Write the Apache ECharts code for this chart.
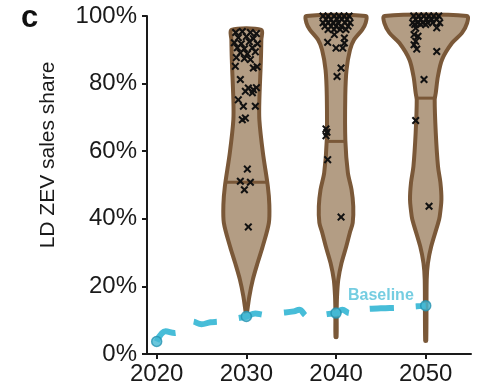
<!DOCTYPE html>
<html><head><meta charset="utf-8">
<script src="https://cdn.jsdelivr.net/npm/echarts@6/dist/echarts.min.js"></script>
<style>html,body{margin:0;padding:0;background:#fff}#c{width:477px;height:388px}</style>
</head><body><div id="c"></div>
<script>
// ---- data ----
const xTickYears = [2020, 2030, 2040, 2050];
const violinYears = [2030, 2040, 2050];
// violin profiles: [share %, half width in years], from top to bottom
const violin2030 = [[95.9,1.67],[93,1.67],[87,1.62],[75.2,1.45],[69.3,1.45],[59.6,1.84],[49.5,2.40],[44.2,2.56],[38.8,2.51],[31.8,1.82],[27,1.26],[22,0.72],[17,0.33],[11.3,0.02]];
const violin2040 = [[100,3.31],[98,3.31],[96,2.93],[93,2.01],[90,1.56],[84.1,1.17],[76.2,1.03],[63.1,1.04],[53.6,1.32],[48.6,1.73],[43.7,1.92],[38.8,1.86],[35.9,1.54],[31.8,1.14],[26.9,0.61],[22,0.25],[17,0.11],[12.2,0.07],[5,0.06]];
const violin2050 = [[100,4.61],[97.9,4.61],[95,4.05],[92,2.93],[87.1,1.82],[82.1,1.36],[77.2,1.12],[75.2,1.0],[65.5,1.12],[55.5,1.37],[50.7,1.64],[45.7,1.75],[40.7,1.56],[38.8,1.39],[31.8,0.61],[26.9,0.25],[22,0.11],[3.9,0.06]];
const violinMedians = [50.8, 62.9, 75.7];
const points2030 = [[2028.81,95.1],[2029.55,95.4],[2030.45,95.1],[2031.12,94.8],[2029.11,93.6],[2030.0,93.9],[2030.78,93.3],[2028.66,92.1],[2029.44,91.8],[2030.33,92.4],[2031.23,91.8],[2028.99,90.6],[2029.78,90.3],[2030.67,90.6],[2029.33,89.1],[2030.11,88.8],[2031.0,89.4],[2028.88,87.7],[2029.78,87.4],[2030.45,87.1],[2028.77,85.1],[2030.78,84.6],[2031.2,85.0],[2029.33,81.2],[2030.22,78.7],[2030.78,78.2],[2031.12,78.8],[2029.89,77.7],[2030.67,77.3],[2029.1,75.2],[2029.67,73.3],[2031.0,73.3],[2029.55,69.3],[2029.89,69.8],[2030.11,54.7],[2029.33,51.1],[2030.45,50.8],[2029.78,48.6],[2030.22,37.6]];
const points2040 = [[2038.55,100],[2039.11,100],[2039.78,100],[2040.33,100],[2040.89,100],[2041.45,100],[2038.88,99],[2039.44,99],[2040.11,99],[2040.67,99],[2041.23,99],[2038.55,98],[2039.11,98],[2039.67,98],[2040.22,98],[2041.0,98],[2041.56,98],[2038.77,97],[2039.44,97],[2040.0,97],[2040.56,97],[2041.34,97],[2039.11,96],[2039.78,96],[2040.45,96],[2041.11,96],[2039.81,94.5],[2040.93,93.5],[2039.07,92.2],[2040.93,92.0],[2040.0,90.5],[2040.75,90.5],[2040.56,84.6],[2040.11,82.1],[2038.88,66.6],[2038.99,65.6],[2038.88,64.6],[2039.07,57.5],[2040.56,40.5]];
const points2050 = [[2048.66,100],[2049.22,100],[2049.78,100],[2050.33,100],[2050.89,100],[2051.45,100],[2048.88,99],[2049.44,99],[2050.11,99],[2050.67,99],[2051.23,99],[2048.55,98],[2049.11,98],[2049.67,98],[2050.22,98],[2050.78,98],[2051.56,98],[2048.77,97.5],[2049.44,97.5],[2050.0,97.5],[2051.23,96.5],[2048.88,96.4],[2048.70,94.5],[2049.14,94.0],[2048.88,92.5],[2048.70,91.5],[2049.0,90.2],[2051.23,89.5],[2049.81,81.2],[2048.88,69.1],[2050.37,43.7]];
const baselineLine = [[2020,3.7],[2021,6.7],[2022,6.2],[2023,7.6],[2024,9.6],[2025,8.8],[2026,9.4],[2027,9.6],[2028,10.2],[2029,10.6],[2030,11.1],[2031,12.0],[2032,11.6],[2033,12.0],[2034,12.2],[2035.3,12.6],[2035.9,13.1],[2036.8,11.2],[2037.5,11.6],[2038.5,11.6],[2039,11.8],[2040,12.1],[2040.7,13.1],[2041.5,12.1],[2042.2,13.1],[2043,13.2],[2044,13.4],[2045,13.5],[2046,13.6],[2047,13.7],[2048,13.9],[2049,14.1],[2050,14.3]];
const baselineMarkers = [[2020,3.7],[2030,11.1],[2040,12.1],[2050,14.3]];
const baselineLabel = [[2045.0,17.2]];

// ---- chart ----
const profiles = [violin2030, violin2040, violin2050];
const FONT = 'Liberation Sans, Arial, sans-serif';
const FILL = '#b39d84', EDGE = '#7a5838', CYAN = '#47bdd8';
function widthAt(prof, v){
  for (let k=0;k<prof.length-1;k++){
    const a=prof[k], b=prof[k+1];
    if (v<=a[0] && v>=b[0]) { const t=(a[0]-v)/(a[0]-b[0]); return a[1]+(b[1]-a[1])*t; }
  }
  return 0;
}
const crossPath = 'path://M0,1.8L1.8,0L5,3.2L8.2,0L10,1.8L6.8,5L10,8.2L8.2,10L5,6.8L1.8,10L0,8.2L3.2,5Z';
const chart = echarts.init(document.getElementById('c'), null, {renderer:'canvas'});
chart.setOption({
  animation:false,
  grid:{left:147,right:6,top:16,bottom:34,containLabel:false},
  xAxis:{type:'value',min:2018.92,max:2055.05,
    axisLine:{lineStyle:{color:'#1a1a1a',width:2}},
    axisTick:{show:true,length:5,lineStyle:{color:'#1a1a1a',width:2},customValues:xTickYears},
    axisLabel:{customValues:xTickYears,fontSize:24,color:'#1a1a1a',fontFamily:FONT,margin:8,formatter:v=>String(v)},
    splitLine:{show:false}},
  yAxis:{type:'value',min:0,max:100,interval:20,
    axisLine:{show:true,lineStyle:{color:'#1a1a1a',width:2}},
    axisTick:{show:true,length:5,lineStyle:{color:'#1a1a1a',width:2}},
    axisLabel:{fontSize:24,color:'#1a1a1a',fontFamily:FONT,margin:10,formatter:'{value}%'},
    splitLine:{show:false}},
  graphic:[
    {type:'text',x:21,y:18,style:{text:'c',font:'bold 31px '+FONT,fill:'#111',verticalAlign:'middle',align:'left'}},
    {type:'text',x:48,y:155,rotation:Math.PI/2,style:{text:'LD ZEV sales share',font:'21px '+FONT,fill:'#1a1a1a',align:'center',verticalAlign:'middle'}}
  ],
  series:[
    {type:'custom',clip:false,z:1,
      data:violinYears.map((y,i)=>[y,violinMedians[i]]),
      encode:{x:0,y:1},
      renderItem:function(params,api){
        const i=params.dataIndex, c=api.value(0), prof=profiles[i];
        const right=prof.map(p=>api.coord([c+p[1],p[0]]));
        const left=prof.slice().reverse().map(p=>api.coord([c-p[1],p[0]]));
        const m=violinMedians[i], w=widthAt(prof,m);
        const a=api.coord([c-w,m]), b=api.coord([c+w,m]);
        return {type:'group',children:[
          {type:'polygon',shape:{points:right.concat(left),smooth:0.3},style:{fill:FILL,stroke:EDGE,lineWidth:4,lineJoin:'round'}},
          {type:'line',shape:{x1:a[0],y1:a[1],x2:b[0],y2:b[1]},style:{stroke:EDGE,lineWidth:3}}
        ]};
      }},
    {type:'scatter',z:3,clip:false,data:points2030.concat(points2040,points2050),
      symbol:crossPath,symbolSize:8,itemStyle:{color:'#111',opacity:1}},
    {type:'line',z:4,data:baselineLine,showSymbol:false,smooth:0.4,
      lineStyle:{color:CYAN,width:6,type:[24,22]}},
    {type:'scatter',z:5,data:baselineMarkers,symbol:'circle',symbolSize:10,
      itemStyle:{color:'#45b8d3',borderColor:'#2592b0',borderWidth:1.5}},
    {type:'scatter',z:5,data:baselineLabel,symbolSize:0,
      label:{show:true,position:'inside',formatter:'Baseline',fontSize:16,fontWeight:'bold',color:'#52c1da',fontFamily:FONT}}
  ]
});
</script></body></html>
